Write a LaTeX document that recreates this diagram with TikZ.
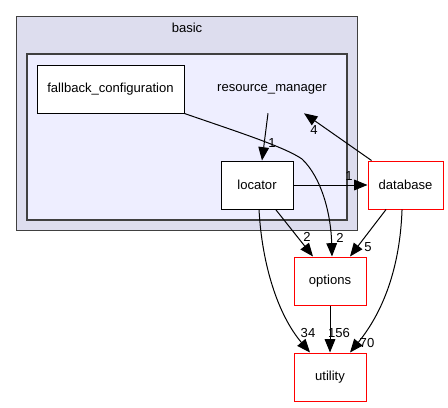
\documentclass[tikz,border=0pt]{standalone}
\usepackage{fontspec}
\setmainfont{Liberation Sans}
\usetikzlibrary{arrows.meta,calc}
\definecolor{outerfill}{HTML}{DDDDEE}
\definecolor{innerfill}{HTML}{EEEEFF}
\definecolor{clborder}{HTML}{404040}
\begin{document}
\begin{tikzpicture}[x=0.75pt,y=-0.75pt,
  font=\fontsize{9.8pt}{11pt}\selectfont,
  dirbox/.style={draw=black,fill=white,line width=0.75pt,rectangle,inner sep=0pt,minimum height=36pt},
  extbox/.style={draw=red,fill=white,line width=0.75pt,rectangle,inner sep=0pt,minimum height=36pt},
  dep/.style={draw=black,line width=0.75pt,-{Triangle[length=10pt,width=8pt]}},
  lbl/.style={inner sep=0pt}]
\useasboundingbox (0,0) rectangle (448,407);
% clusters
\draw[fill=outerfill,draw=clborder,line width=0.75pt] (16,16) rectangle (357,230);
\node[lbl] (basic) at (187,28) {basic};
\draw[fill=innerfill,draw=clborder,line width=1.5pt] (27,54) rectangle (347,220);
% nodes
\node[lbl,minimum height=48*0.75pt] (rm) at (272,89) {resource\_manager};
\node[dirbox,minimum width=110.25pt] (fb) at (110.5,89) {fallback\_configuration};
\node[dirbox,minimum width=54pt] (loc) at (257,185) {locator};
\node[extbox,minimum width=56.25pt] (db) at (405.5,185) {database};
\node[extbox,minimum width=54pt] (opt) at (330,281) {options};
\node[extbox,minimum width=54pt] (util) at (330,377) {utility};
% edges
\draw[dep] ([xshift=-3pt]rm.south) -- ([xshift=3.75pt]loc.north);
\node[lbl] (l1) at (272,143) {1};
\draw[dep] ([xshift=3pt]db.north west) -- ([xshift=24pt]rm.south);
\node[lbl] (l4) at (314,130) {4};
\draw[dep] (loc.east) -- (db.west);
\node[lbl] (l1b) at (349,176) {1};
\draw[dep] (fb.south east) .. controls (235,131) and (285,147) .. (302,159)
  .. controls (322,178) and (331,215) .. ([xshift=1.5pt]opt.north);
\node[lbl] (l2a) at (340,238) {2};
\draw[dep] ([xshift=14pt]loc.south) -- ([xshift=-12.75pt]opt.north);
\node[lbl] (l2b) at (307,237) {2};
\draw[dep] ([xshift=1.5pt]loc.south) .. controls (262,265) and (278,315) .. ([xshift=-15pt]util.north);
\node[lbl] (l34) at (308,333) {34};
\draw[dep] ([xshift=-14.6pt]db.south) -- ([xshift=15pt]opt.north);
\node[lbl] (l5) at (368,247) {5};
\draw[dep] ([xshift=-2.6pt]db.south) .. controls (400,268) and (383,312) .. ([xshift=15pt]util.north);
\node[lbl] (l70) at (367,343) {70};
\draw[dep] (opt.south) -- (util.north);
\node[lbl] (l156) at (339,333) {156};
\end{tikzpicture}
\end{document}
